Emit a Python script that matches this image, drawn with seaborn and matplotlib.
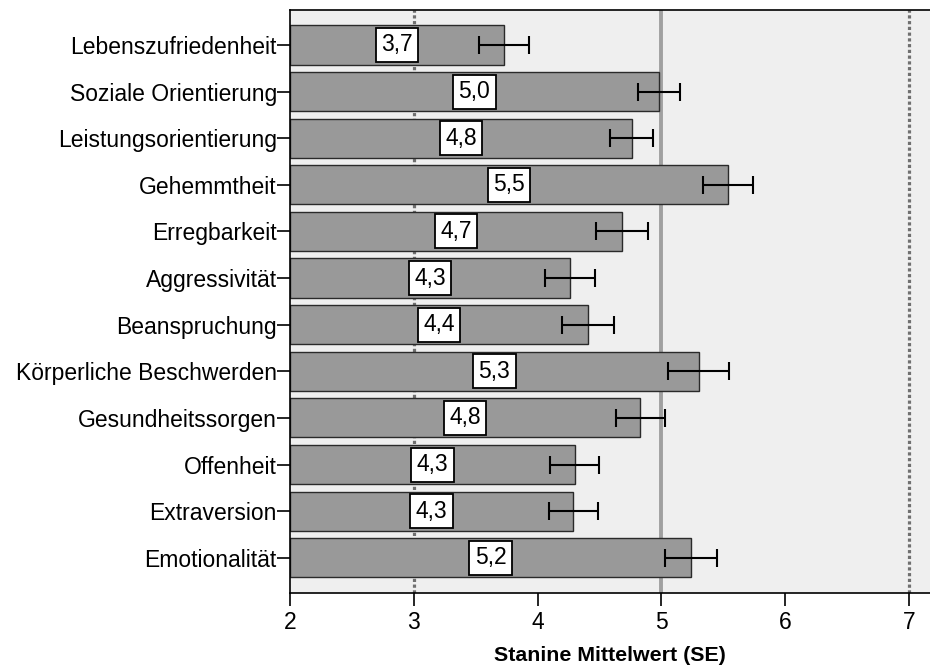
import matplotlib
matplotlib.use("Agg")
import matplotlib.pyplot as plt
import seaborn as sns
import pandas as pd

# Scale names (top to bottom), mean stanine values and standard errors
scales = [
    "Lebenszufriedenheit",
    "Soziale Orientierung",
    "Leistungsorientierung",
    "Gehemmtheit",
    "Erregbarkeit",
    "Aggressivität",
    "Beanspruchung",
    "Körperliche Beschwerden",
    "Gesundheitssorgen",
    "Offenheit",
    "Extraversion",
    "Emotionalität",
]
means = [3.73, 4.98, 4.76, 5.54, 4.68, 4.26, 4.41, 5.30, 4.83, 4.30, 4.29, 5.24]
std_errors = [0.20, 0.17, 0.175, 0.20, 0.21, 0.20, 0.21, 0.245, 0.20, 0.20, 0.20, 0.21]

x_ticks = [2, 3, 4, 5, 6, 7]
x_label = "Stanine Mittelwert (SE)"

df = pd.DataFrame({"scale": scales, "mean": means, "se": std_errors})

sns.set_style("white")
plt.rcParams["font.family"] = ["Liberation Sans", "DejaVu Sans"]
plt.rcParams["text.color"] = "black"
plt.rcParams["axes.labelcolor"] = "black"

FS = 16.5

fig = plt.figure(figsize=(9.30, 6.68), dpi=100)
ax = fig.add_axes([0.3118, 0.1127, 0.6882, 0.8723])
ax.set_facecolor("#efefef")

# reference lines: average range (3..7) dotted, mean of norm (5) solid
ax.axvline(3, color="#707070", lw=2.3, ls=(0, (1, 0.8)), zorder=0.5)
ax.axvline(7, color="#707070", lw=2.3, ls=(0, (1, 0.8)), zorder=0.5)
ax.axvline(5, color="#a0a0a0", lw=2.8, zorder=0.5)

sns.barplot(data=df, x="mean", y="scale", orient="h", color="#999999",
            saturation=1, width=0.84, errorbar=None, edgecolor="#2a2a2a",
            linewidth=1.0, ax=ax, zorder=2)

# the bars start at the left edge of the axis
for patch, m in zip(ax.patches, means):
    patch.set_x(2)
    patch.set_width(m - 2)

ypos = list(range(len(scales)))
ax.errorbar(means, ypos, xerr=std_errors, fmt="none", ecolor="black",
            elinewidth=1.5, capsize=6.5, capthick=1.5, zorder=3)

for y, m in zip(ypos, means):
    txt = f"{m:.1f}".replace(".", ",")
    ax.text((2 + m) / 2, y, txt, ha="center", va="center", fontsize=FS,
            color="black", zorder=4,
            bbox=dict(boxstyle="square,pad=0.24", facecolor="white",
                      edgecolor="black", linewidth=1.3))

ax.set_xlim(2, 7.17)
ax.set_ylim(11.75, -0.75)
ax.set_xticks(x_ticks)
ax.set_xticklabels([str(t) for t in x_ticks])
ax.set_xlabel(x_label, fontsize=15.4, fontweight="bold", labelpad=8,
              color="black")
ax.set_ylabel("")

ax.tick_params(axis="x", direction="out", length=9.5, width=1.2, pad=4,
               labelsize=FS, colors="black", bottom=True)
ax.tick_params(axis="y", direction="out", length=9.5, width=1.2, pad=0,
               labelsize=FS, colors="black", left=True)

for side in ("left", "bottom", "top"):
    ax.spines[side].set_visible(True)
    ax.spines[side].set_color("black")
    ax.spines[side].set_linewidth(1.2)
ax.spines["right"].set_visible(False)

fig.savefig("out.png", dpi=100, facecolor="white")
